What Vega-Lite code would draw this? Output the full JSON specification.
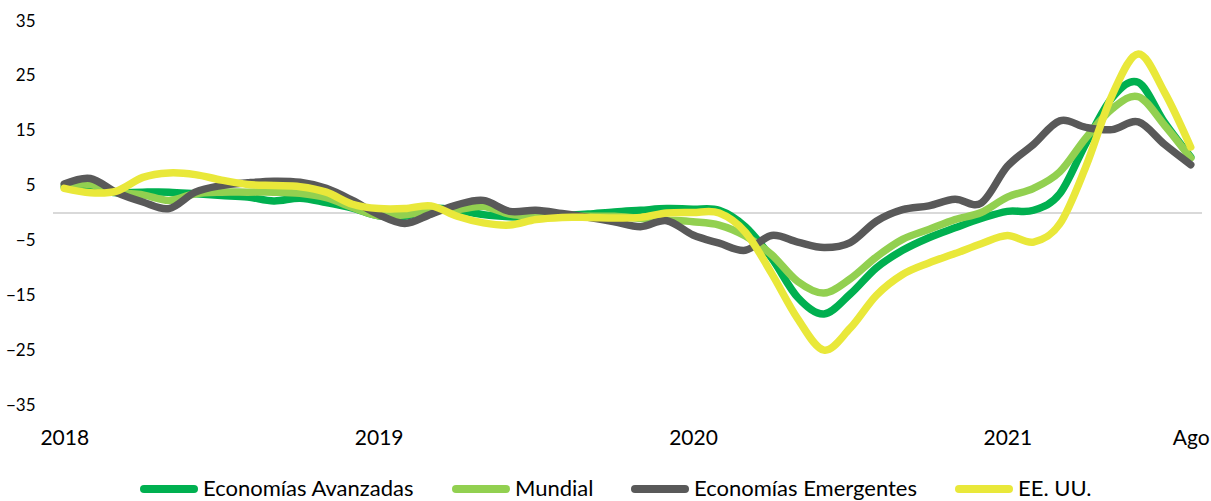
{
  "$schema": "https://vega.github.io/schema/vega-lite/v6.json",
  "width": 1149,
  "height": 384,
  "autosize": {"type": "none"},
  "padding": {"left": 53, "top": 21, "right": 9, "bottom": 96},
  "background": "white",
  "config": {"view": {"stroke": null}, "font": "Lato"},
  "data": {"values": [
    {"t": 0, "A": 4.8, "M": 5.0, "E": 5.3, "U": 4.5},
    {"t": 1, "A": 4.3, "M": 5.2, "E": 6.3, "U": 3.7},
    {"t": 2, "A": 3.7, "M": 3.8, "E": 3.7, "U": 4.0},
    {"t": 3, "A": 3.8, "M": 3.3, "E": 2.0, "U": 6.5},
    {"t": 4, "A": 3.8, "M": 2.3, "E": 0.8, "U": 7.3},
    {"t": 5, "A": 3.5, "M": 3.5, "E": 3.8, "U": 7.0},
    {"t": 6, "A": 3.2, "M": 3.8, "E": 5.0, "U": 6.0},
    {"t": 7, "A": 2.9, "M": 3.8, "E": 5.5, "U": 5.2},
    {"t": 8, "A": 2.2, "M": 3.8, "E": 5.8, "U": 5.0},
    {"t": 9, "A": 2.7, "M": 3.6, "E": 5.6, "U": 4.8},
    {"t": 10, "A": 1.9, "M": 2.8, "E": 4.5, "U": 3.8},
    {"t": 11, "A": 0.9, "M": 1.0, "E": 2.3, "U": 1.6},
    {"t": 12, "A": -0.5, "M": -0.5, "E": -0.3, "U": 0.8},
    {"t": 13, "A": -0.6, "M": -0.3, "E": -1.9, "U": 0.8},
    {"t": 14, "A": 0.8, "M": 0.4, "E": -0.2, "U": 1.3},
    {"t": 15, "A": 0.5, "M": 0.6, "E": 1.5, "U": -0.6},
    {"t": 16, "A": -0.3, "M": 1.2, "E": 2.3, "U": -1.8},
    {"t": 17, "A": -0.7, "M": -0.2, "E": 0.3, "U": -2.2},
    {"t": 18, "A": -0.8, "M": -0.6, "E": 0.5, "U": -1.2},
    {"t": 19, "A": -0.5, "M": -0.6, "E": -0.1, "U": -0.8},
    {"t": 20, "A": -0.2, "M": -0.6, "E": -0.8, "U": -0.8},
    {"t": 21, "A": 0.2, "M": -0.6, "E": -1.6, "U": -0.9},
    {"t": 22, "A": 0.5, "M": -1.0, "E": -2.5, "U": -0.8},
    {"t": 23, "A": 0.8, "M": -1.3, "E": -1.4, "U": 0.0},
    {"t": 24, "A": 0.7, "M": -1.6, "E": -4.0, "U": 0.1},
    {"t": 25, "A": 0.5, "M": -2.2, "E": -5.5, "U": 0.0},
    {"t": 26, "A": -2.5, "M": -4.2, "E": -6.8, "U": -3.5},
    {"t": 27, "A": -8.2, "M": -7.6, "E": -4.1, "U": -11.0},
    {"t": 28, "A": -15.4, "M": -12.5, "E": -5.3, "U": -19.3},
    {"t": 29, "A": -18.4, "M": -14.6, "E": -6.3, "U": -25.0},
    {"t": 30, "A": -14.8, "M": -12.0, "E": -5.4, "U": -21.0},
    {"t": 31, "A": -10.0, "M": -8.0, "E": -1.5, "U": -15.0},
    {"t": 32, "A": -6.8, "M": -4.8, "E": 0.6, "U": -11.2},
    {"t": 33, "A": -4.5, "M": -3.0, "E": 1.3, "U": -9.1},
    {"t": 34, "A": -2.7, "M": -1.2, "E": 2.5, "U": -7.4},
    {"t": 35, "A": -1.0, "M": 0.1, "E": 1.8, "U": -5.6},
    {"t": 36, "A": 0.3, "M": 2.9, "E": 8.5, "U": -4.1},
    {"t": 37, "A": 0.5, "M": 4.5, "E": 12.5, "U": -5.3},
    {"t": 38, "A": 3.5, "M": 7.5, "E": 16.8, "U": -2.0},
    {"t": 39, "A": 12.7, "M": 13.7, "E": 15.6, "U": 8.5},
    {"t": 40, "A": 21.0, "M": 19.0, "E": 15.2, "U": 21.5},
    {"t": 41, "A": 23.8, "M": 21.2, "E": 16.6, "U": 29.0},
    {"t": 42, "A": 16.5, "M": 16.0, "E": 12.5, "U": 22.0},
    {"t": 43, "A": 10.2, "M": 10.0, "E": 8.8, "U": 12.0}
  ]},
  "layer": [
    {
      "data": {"values": [{"z": 0}]},
      "mark": {"type": "rule", "color": "#d9d9d9", "strokeWidth": 2},
      "encoding": {
        "y": {
          "field": "z", "type": "quantitative",
          "scale": {"domain": [-35, 35], "nice": false},
          "axis": {"values": [-35, -25, -15, -5, 5, 15, 25, 35], "grid": false, "domain": false, "ticks": false, "labelPadding": 18, "labelFontSize": 17, "labelColor": "#000000", "labelFont": "Lato", "title": null, "labelFlush": false}
        }
      }
    },
    {
      "transform": [{"fold": ["A", "M", "E", "U"], "as": ["serie", "valor"]}],
      "mark": {"type": "line", "interpolate": "cardinal", "strokeWidth": 7.5, "strokeCap": "round", "strokeJoin": "round"},
      "encoding": {
        "x": {
          "field": "t", "type": "quantitative",
          "scale": {"domain": [-0.43, 43.43], "nice": false, "zero": false},
          "axis": {"values": [0, 12, 24, 36, 43], "labelExpr": "datum.value == 0 ? '2018' : datum.value == 12 ? '2019' : datum.value == 24 ? '2020' : datum.value == 36 ? '2021' : 'Ago'", "grid": false, "domain": false, "ticks": false, "labelPadding": 22, "labelFontSize": 21, "labelColor": "#000000", "labelFont": "Lato", "title": null, "labelFlush": false, "labelOverlap": false}
        },
        "y": {
          "field": "valor", "type": "quantitative",
          "scale": {"domain": [-35, 35], "nice": false},
          "axis": {"values": [-35, -25, -15, -5, 5, 15, 25, 35], "grid": false, "domain": false, "ticks": false, "labelPadding": 18, "labelFontSize": 17, "labelColor": "#000000", "labelFont": "Lato", "title": null, "labelFlush": false}
        },
        "color": {
          "field": "serie", "type": "nominal",
          "scale": {"domain": ["A", "M", "E", "U"], "range": ["#00b050", "#92d050", "#595959", "#e9e83a"]},
          "legend": {
            "orient": "none", "legendX": 87, "legendY": 439, "direction": "horizontal", "title": null,
            "symbolType": "stroke", "symbolStrokeWidth": 8, "symbolSize": 2500,
            "labelFontSize": 22, "labelColor": "#000000", "labelFont": "Lato", "labelOffset": 5, "columnPadding": 25, "labelLimit": 400,
            "labelExpr": "datum.label == 'A' ? 'Economías Avanzadas' : datum.label == 'M' ? 'Mundial' : datum.label == 'E' ? 'Economías Emergentes' : 'EE. UU.'",
            "encode": {"symbols": {"update": {"strokeCap": {"value": "round"}}}}
          }
        }
      }
    }
  ]
}
